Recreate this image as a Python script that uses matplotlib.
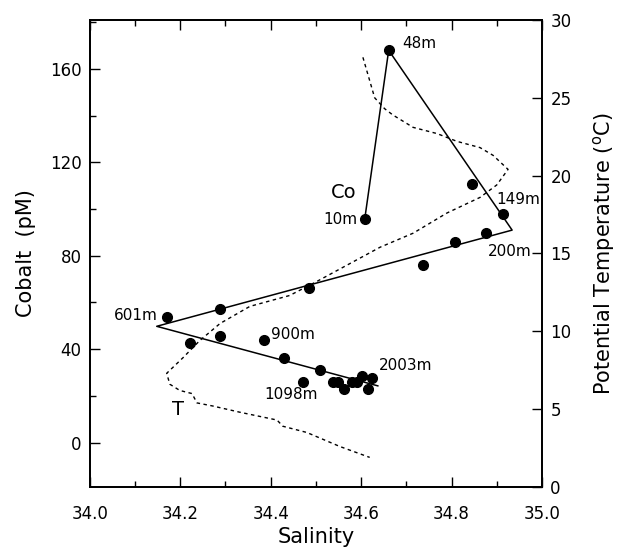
import matplotlib
matplotlib.use("Agg")
from matplotlib import pyplot as plt
from matplotlib.ticker import MultipleLocator

# cobalt samples (salinity, pM)
co_sal = [34.661, 34.608, 34.845, 34.914, 34.876, 34.808, 34.737, 34.485,
          34.288, 34.170, 34.288, 34.221, 34.385, 34.430, 34.509, 34.472,
          34.537, 34.549, 34.563, 34.580, 34.591, 34.602, 34.624, 34.616]
co_val = [168, 95.7, 110.6, 97.9, 89.8, 86, 76.2, 66,
          57, 53.6, 45.5, 42.6, 43.8, 36.2, 31, 26,
          26, 26, 23, 26, 26, 28.7, 27.5, 23]

# mixing lines
mix_sal = [34.608, 34.661, 34.934, 34.148, 34.637]
mix_co = [95.7, 168, 91, 49.8, 24.3]

# potential temperature profile (salinity, degC)
t_sal = [34.604, 34.630, 34.652, 34.670, 34.715, 34.768, 34.812, 34.863, 34.892,
         34.925, 34.900, 34.863, 34.790, 34.715, 34.642, 34.502, 34.442, 34.354,
         34.288, 34.243, 34.206, 34.170, 34.177, 34.199, 34.226, 34.237, 34.272,
         34.332, 34.414, 34.427, 34.480, 34.553, 34.619]
t_val = [27.6, 25.0, 24.3, 23.9, 23.1, 22.7, 22.2, 21.8, 21.3,
         20.4, 19.4, 18.6, 17.6, 16.3, 15.4, 13.2, 12.3, 11.6,
         10.5, 9.4, 8.3, 7.3, 6.6, 6.2, 6.0, 5.4, 5.2,
         4.8, 4.3, 3.9, 3.5, 2.6, 1.9]

fig = plt.figure(figsize=(6.28, 5.54), dpi=100)
ax = fig.add_axes([0.143, 0.121, 0.72, 0.843])
ax2 = ax.twinx()

ax.plot(mix_sal, mix_co, color='black', lw=1.1)
ax.plot(co_sal, co_val, 'o', color='black', ms=7)
ax2.plot(t_sal, t_val, color='black', lw=1.0, linestyle=(0, (2.5, 2.5)))

ax.set_xlim(34.0, 35.0)
ax.set_ylim(-19, 181)
ax2.set_ylim(0, 30)

ax.xaxis.set_major_locator(MultipleLocator(0.2))
ax.xaxis.set_minor_locator(MultipleLocator(0.1))
ax.yaxis.set_major_locator(MultipleLocator(40))
ax.yaxis.set_minor_locator(MultipleLocator(20))
ax2.yaxis.set_major_locator(MultipleLocator(5))
ax.xaxis.set_major_formatter(plt.FormatStrFormatter('%.1f'))

ax.tick_params(axis='x', which='both', direction='in', top=True, labelsize=12, pad=13)
ax.tick_params(axis='y', which='both', direction='in', labelsize=12, pad=6)
ax.tick_params(which='major', length=7, width=1)
ax.tick_params(which='minor', length=4, width=1)
ax2.tick_params(axis='y', direction='in', length=7, width=1, labelsize=12, pad=6)

for a in (ax, ax2):
    for s in a.spines.values():
        s.set_linewidth(1.3)

ax.set_xlabel('Salinity', fontsize=15, labelpad=3)
ax.set_ylabel('Cobalt  (pM)', fontsize=15, labelpad=10)
ax2.set_ylabel('Potential Temperature ($^{\\mathrm{o}}$C)', fontsize=15, labelpad=14)

fs = 11
ax.text(34.690, 171, '48m', fontsize=fs, va='center', ha='left')
ax.text(34.592, 95.7, '10m', fontsize=fs, va='center', ha='right')
ax.text(34.590, 107, 'Co', fontsize=14, va='center', ha='right')
ax.text(34.900, 104, '149m', fontsize=fs, va='center', ha='left')
ax.text(34.880, 82, '200m', fontsize=fs, va='center', ha='left')
ax.text(34.150, 54.5, '601m', fontsize=fs, va='center', ha='right')
ax.text(34.400, 46.5, '900m', fontsize=fs, va='center', ha='left')
ax.text(34.640, 33, '2003m', fontsize=fs, va='center', ha='left')
ax.text(34.385, 20.5, '1098m', fontsize=fs, va='center', ha='left')
ax.text(34.195, 14, 'T', fontsize=14, va='center', ha='center')

fig.savefig('out.png', dpi=100)
